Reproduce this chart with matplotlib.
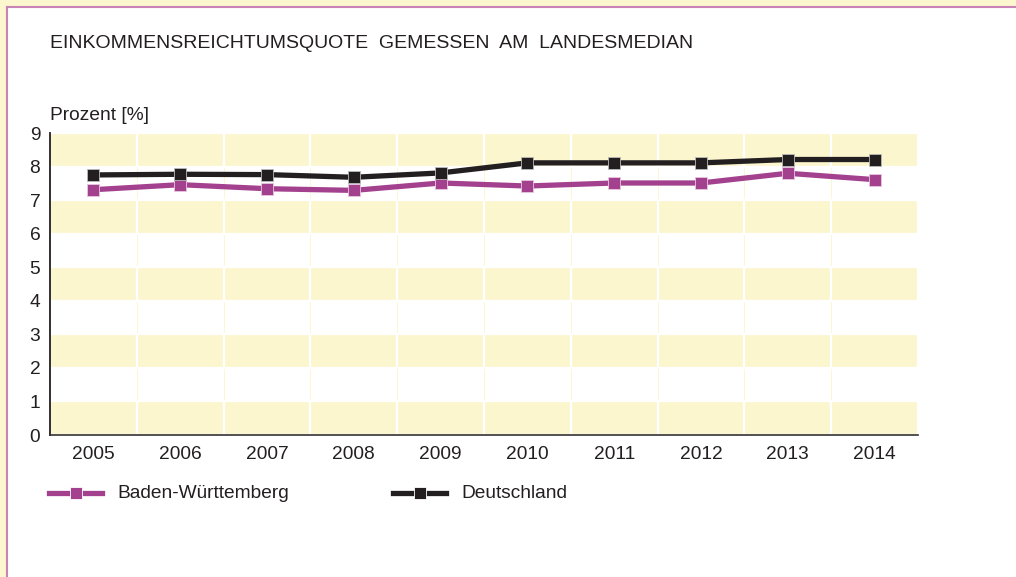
import matplotlib
matplotlib.use("Agg")
import matplotlib.pyplot as plt
from matplotlib.patches import Rectangle
from matplotlib.lines import Line2D

years = ["2005", "2006", "2007", "2008", "2009", "2010", "2011", "2012", "2013", "2014"]
bw = [7.31, 7.46, 7.34, 7.29, 7.51, 7.42, 7.51, 7.51, 7.80, 7.61]
de = [7.75, 7.77, 7.76, 7.68, 7.81, 8.11, 8.11, 8.11, 8.21, 8.21]
series_names = ["Baden-Württemberg", "Deutschland"]
yticks = list(range(0, 10))
title = "EINKOMMENSREICHTUMSQUOTE  GEMESSEN  AM  LANDESMEDIAN"
ylabel = "Prozent [%]"

FONT = "Liberation Sans"
plt.rcParams["font.family"] = [FONT, "DejaVu Sans"]
FS = 13.8

W, H = 1016, 577
DPI = 100
fig = plt.figure(figsize=(W / DPI, H / DPI), dpi=DPI)
fig.patch.set_facecolor("white")

cream = "#fdf7d0"
pink = "#c983b4"
yellow = "#fcf6cf"
magenta = "#a3418f"
black = "#231f20"
textc = "#231f20"

def fx(px):
    return px / W

def fy(py):
    return 1 - py / H

# outer frame decoration
fig.patches.append(Rectangle((0, fy(6)), 1, 6 / H, transform=fig.transFigure,
                             facecolor=cream, edgecolor="none", zorder=0))
fig.patches.append(Rectangle((0, 0), fx(6), 1, transform=fig.transFigure,
                             facecolor=cream, edgecolor="none", zorder=0))
fig.lines.append(Line2D([fx(6.5), 1], [fy(6.5), fy(6.5)], transform=fig.transFigure,
                        color=pink, lw=1.5, zorder=1))
fig.lines.append(Line2D([fx(6.5), fx(6.5)], [0, fy(6.5)], transform=fig.transFigure,
                        color=pink, lw=1.5, zorder=1))

ax = fig.add_axes([fx(50), fy(435), fx(918) - fx(50), fy(133) - fy(435)])
ax.set_facecolor("white")
n = len(years)
ax.set_xlim(-0.5, n - 0.5)
ax.set_ylim(0, 9)

# banded cells
for k in range(9):
    for i in range(n):
        if k % 2 == 0:
            r = Rectangle((i - 0.5, k), 1, 1, facecolor=yellow, edgecolor="white",
                          lw=1.6, zorder=0.5)
        else:
            r = Rectangle((i - 0.5, k), 1, 1, facecolor="white", edgecolor=yellow,
                          lw=0.6, zorder=0.4)
        ax.add_patch(r)

x = list(range(n))
ax.plot(x, bw, color=magenta, lw=3.8, marker="s", ms=8.5, mfc=magenta,
        mec="#e8c8df", mew=0.6, zorder=3, solid_joinstyle="miter")
ax.plot(x, de, color=black, lw=3.8, marker="s", ms=8.5, mfc=black,
        mec="#bbbbbb", mew=0.6, zorder=4, solid_joinstyle="miter")

ax.set_xticks(x)
ax.set_xticklabels(years)
ax.set_yticks(yticks)
ax.set_yticklabels([str(t) for t in yticks])
ax.tick_params(axis="both", length=0, labelsize=FS, colors=textc)
ax.tick_params(axis="x", pad=8)
ax.tick_params(axis="y", pad=7)
for s in ["top", "right"]:
    ax.spines[s].set_visible(False)
ax.spines["left"].set_color(textc)
ax.spines["left"].set_linewidth(1.3)
ax.spines["bottom"].set_color("#333333")
ax.spines["bottom"].set_linewidth(1.2)
ax.spines["left"].set_zorder(5)
ax.spines["bottom"].set_zorder(5)

fig.text(fx(50), fy(43), title, fontsize=14, color=textc, ha="left", va="center")
fig.text(fx(50), fy(115), ylabel, fontsize=FS, color=textc, ha="left", va="center")

# legend
def legend_item(x0, color, label):
    yy = fy(493)
    fig.lines.append(Line2D([fx(x0), fx(x0 + 53)], [yy, yy], transform=fig.transFigure,
                            color=color, lw=3.8, zorder=5))
    fig.lines.append(Line2D([fx(x0 + 26.5)], [yy], transform=fig.transFigure,
                            color=color, marker="s", ms=8, mfc=color, mec="white",
                            mew=0.6, lw=0, zorder=6))
    fig.text(fx(x0 + 68), yy, label, fontsize=FS, color=textc, ha="left", va="center")

legend_item(49, magenta, series_names[0])
legend_item(393, black, series_names[1])

fig.savefig("out.png", dpi=DPI)
